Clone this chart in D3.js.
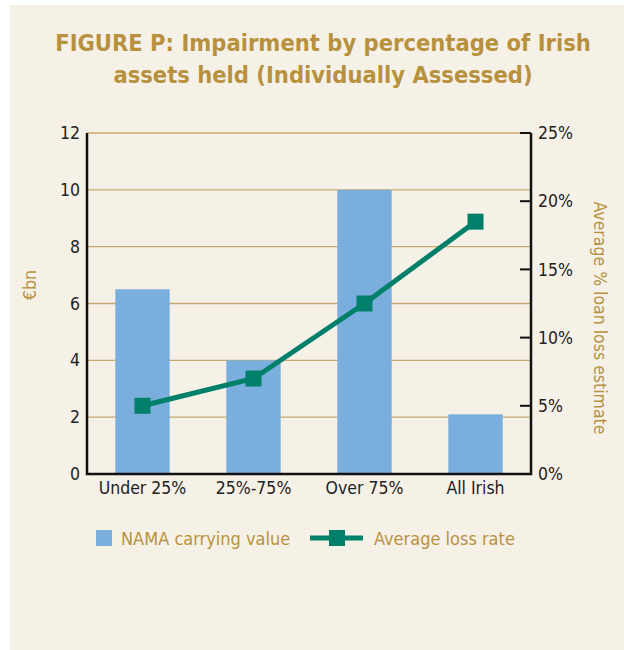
<!DOCTYPE html>
<html><head><meta charset="utf-8">
<script src="https://cdn.jsdelivr.net/npm/d3@7"></script>
<style>
body{margin:0;background:#fff;}
svg{display:block;}
text{font-family:"DejaVu Sans Condensed","DejaVu Sans",sans-serif;}
</style></head>
<body>
<svg id="c" width="624" height="650"></svg>
<script>
const categories = ["Under 25%", "25%-75%", "Over 75%", "All Irish"];
const carryingValue = [6.5, 4.0, 10.0, 2.1];
const lossRate = [5.0, 7.0, 12.5, 18.5];
const leftTicks = [0, 2, 4, 6, 8, 10, 12];
const rightTicks = [0, 5, 10, 15, 20, 25];

const svg = d3.select("#c");
const gold = "#b8913f", grid = "#c8a86e", blue = "#7aafdd", green = "#00806a";

svg.append("rect").attr("x", 10).attr("y", 5).attr("width", 614).attr("height", 645).attr("fill", "#f6f1e7");

svg.append("text").attr("x", 323).attr("y", 51).attr("text-anchor", "middle")
  .attr("fill", gold).attr("font-size", 23.5).attr("font-weight", "bold")
  .text("FIGURE P: Impairment by percentage of Irish");
svg.append("text").attr("x", 323).attr("y", 83).attr("text-anchor", "middle")
  .attr("fill", gold).attr("font-size", 23.5).attr("font-weight", "bold")
  .text("assets held (Individually Assessed)");

const L = 87, R = 531, T = 133, B = 474;
const x = d3.scaleBand().domain(categories).range([L, R]).paddingInner(0.51).paddingOuter(0.255);
const y = d3.scaleLinear().domain([0, 12]).range([B, T]);
const y2 = d3.scaleLinear().domain([0, 25]).range([B, T]);

// gridlines
svg.append("g").selectAll("line").data(leftTicks.filter(d => d > 0)).join("line")
  .attr("x1", L).attr("x2", R).attr("y1", d => y(d)).attr("y2", d => y(d))
  .attr("stroke", grid).attr("stroke-width", 1.3);

// bars
svg.append("g").selectAll("rect").data(categories).join("rect")
  .attr("x", d => x(d)).attr("width", x.bandwidth())
  .attr("y", (d, i) => y(carryingValue[i])).attr("height", (d, i) => B - y(carryingValue[i]))
  .attr("fill", blue);

// left axis
const ga = svg.append("g").attr("transform", `translate(${L},0)`)
  .call(d3.axisLeft(y).tickValues(leftTicks).tickSize(0).tickPadding(7));
ga.select(".domain").remove();
ga.selectAll("text").attr("font-size", 17.5).attr("fill", "#222");

// right axis
const gr = svg.append("g").attr("transform", `translate(${R},0)`)
  .call(d3.axisRight(y2).tickValues(rightTicks).tickFormat(d => d + "%").tickSize(0).tickPadding(7));
gr.select(".domain").remove();
gr.selectAll("text").attr("font-size", 17.5).attr("fill", "#222");
svg.append("g").selectAll("line").data(rightTicks).join("line")
  .attr("x1", R - 11).attr("x2", R).attr("y1", d => y2(d)).attr("y2", d => y2(d))
  .attr("stroke", "#111").attr("stroke-width", 2);

// bottom axis labels
const gb = svg.append("g").attr("transform", `translate(0,${B})`)
  .call(d3.axisBottom(x).tickSize(0).tickPadding(8));
gb.select(".domain").remove();
gb.selectAll("text").attr("font-size", 17.5).attr("fill", "#222");

// frame lines
svg.append("path").attr("d", `M${L},${T}V${B}H${R}V${T}`)
  .attr("fill", "none").attr("stroke", "#111").attr("stroke-width", 2.5);

// line series
const line = d3.line().x((d, i) => x(categories[i]) + x.bandwidth() / 2).y(d => y2(d));
svg.append("path").datum(lossRate).attr("d", line).attr("fill", "none")
  .attr("stroke", green).attr("stroke-width", 5);
svg.append("g").selectAll("rect").data(lossRate).join("rect")
  .attr("x", (d, i) => x(categories[i]) + x.bandwidth() / 2 - 8).attr("y", d => y2(d) - 8)
  .attr("width", 16).attr("height", 16).attr("fill", green);

// axis titles
svg.append("text").attr("transform", "translate(36,285) rotate(-90)").attr("text-anchor", "middle")
  .attr("fill", gold).attr("font-size", 17.5).text("€bn");
svg.append("text").attr("transform", "translate(594,318) rotate(90)").attr("text-anchor", "middle")
  .attr("fill", gold).attr("font-size", 17.5).text("Average % loan loss estimate");

// legend
svg.append("rect").attr("x", 96).attr("y", 530).attr("width", 16).attr("height", 16).attr("fill", blue);
svg.append("text").attr("x", 121).attr("y", 545).attr("fill", gold).attr("font-size", 18).text("NAMA carrying value");
svg.append("line").attr("x1", 310).attr("x2", 363).attr("y1", 538).attr("y2", 538).attr("stroke", green).attr("stroke-width", 5);
svg.append("rect").attr("x", 329).attr("y", 530).attr("width", 16).attr("height", 16).attr("fill", green);
svg.append("text").attr("x", 374).attr("y", 545).attr("fill", gold).attr("font-size", 18).text("Average loss rate");
</script>
</body></html>
